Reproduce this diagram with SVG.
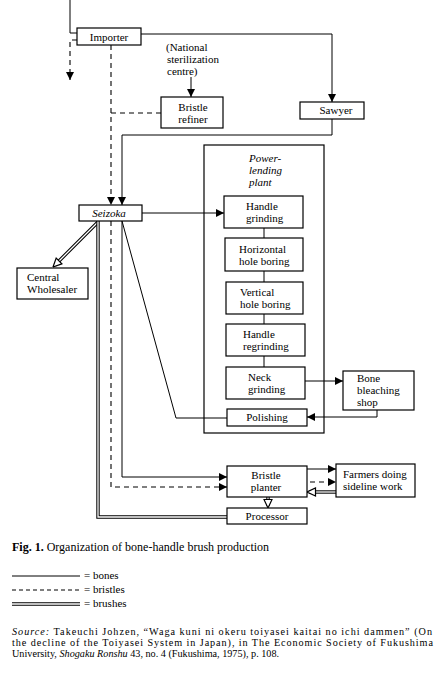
<svg xmlns="http://www.w3.org/2000/svg" width="436" height="678" viewBox="0 0 436 678">
<defs>
<style>
.bg{fill:#fff}
.box{fill:#fff;stroke:#000;stroke-width:1.2}
.frame{fill:none;stroke:#000;stroke-width:1.2}
.t{font-family:"Liberation Serif","Times New Roman",serif;font-size:11px;fill:#000}
.c{text-anchor:middle}
.i{font-style:italic}
.s{fill:none;stroke:#000;stroke-width:1}
.d{fill:none;stroke:#000;stroke-width:1.1;stroke-dasharray:5,4}
.dbk{fill:none;stroke:#000;stroke-width:3.4}
.dbw{fill:none;stroke:#fff;stroke-width:1.3}
.arr{marker-end:url(#arr)}
.hol{marker-end:url(#hol)}
.src{font-size:10.2px}
</style>
<marker id="arr" viewBox="0 0 10 10" refX="10" refY="5" markerWidth="8" markerHeight="8" markerUnits="userSpaceOnUse" orient="auto"><path d="M0,0 L10,5 L0,10 z" fill="#000"/></marker>
<marker id="hol" viewBox="0 0 10 10" refX="9.5" refY="5" markerWidth="10" markerHeight="10" markerUnits="userSpaceOnUse" orient="auto"><path d="M1,1 L9.5,5 L1,9 z" fill="#fff" stroke="#000" stroke-width="1.2"/></marker>
</defs>
<rect class="bg" x="0" y="0" width="436" height="678"/>

<g id="power-lending-plant"><rect class="frame" x="204" y="145" width="120" height="288"/><text class="t i" x="249" y="162">Power-</text><text class="t i" x="249" y="174">lending</text><text class="t i" x="249" y="186">plant</text></g>

<g id="connectors">
  <!-- bones (solid) -->
  <path class="s" d="M70,0 V33 H77"/>
  <path class="s arr" d="M141,34 H332 V102"/>
  <path class="s arr" d="M332,119 V135 H122 V205"/>
  <path class="s arr" d="M142,213 H224"/>
  <path class="s" d="M264,228 V238 M264,271 V282 M264,314 V324 M264,356 V367"/>
  <path class="s arr" d="M305,381 H343"/>
  <path class="s arr" d="M377,410 V417 H307"/>
  <path class="s" d="M227,418 H176 L122,221"/>
  <path class="s arr" d="M122,221 V477 H227"/>
  <path class="s arr" d="M307,469 H336"/>
  <path class="s arr" d="M191,77 V97"/>
  <!-- bristles (dashed) -->
  <path class="d arr" d="M77,40 H70 V80"/>
  <path class="d arr" d="M111,45 V205"/>
  <path class="d" d="M111,113 H161"/>
  <path class="d arr" d="M111,221 V487 H227"/>
  <path class="d arr" d="M310,482 H336"/>
  <!-- brushes (double) -->
  <path class="dbk" d="M98,222 L55,265"/>
  <path class="dbw hol" d="M98,222 L53,267"/>
  <path class="dbk" d="M227,517 H98 V221"/>
  <path class="dbw" d="M227,517 H98 V221"/>
  <path class="dbk" d="M336,492 H309"/>
  <path class="dbw hol" d="M336,492 H307"/>
  <path class="dbk" d="M268,497 V506"/>
  <path class="dbw hol" d="M268,497 V508"/>
</g>

<g id="importer"><rect class="box" x="77" y="28" width="64" height="17"/><text class="t c" x="109" y="41">Importer</text></g>
<g id="national"><text class="t" x="166" y="51">(National</text><text class="t" x="167" y="63">sterilization</text><text class="t" x="167" y="75">centre)</text></g>
<g id="bristle-refiner"><rect class="box" x="161" y="97" width="62" height="31"/><text class="t c" x="193" y="111">Bristle</text><text class="t c" x="193" y="123">refiner</text></g>
<g id="sawyer"><rect class="box" x="300" y="102" width="64" height="17"/><text class="t c" x="336" y="114">Sawyer</text></g>
<g id="seizoka"><rect class="box" x="79" y="205" width="63" height="16"/><text class="t c i" x="109" y="217">Seizoka</text></g>
<g id="central-wholesaler"><rect class="box" x="17" y="268" width="71" height="31"/><text class="t" x="27" y="281">Central</text><text class="t" x="27" y="293">Wholesaler</text></g>
<g id="handle-grinding"><rect class="box" x="224" y="196" width="79" height="32"/><text class="t" x="246" y="210">Handle</text><text class="t" x="246" y="222">grinding</text></g>
<g id="horizontal-hole-boring"><rect class="box" x="225" y="238" width="78" height="33"/><text class="t" x="239" y="253">Horizontal</text><text class="t" x="239" y="265">hole boring</text></g>
<g id="vertical-hole-boring"><rect class="box" x="226" y="282" width="77" height="32"/><text class="t" x="240" y="296">Vertical</text><text class="t" x="240" y="308">hole boring</text></g>
<g id="handle-regrinding"><rect class="box" x="226" y="324" width="79" height="32"/><text class="t" x="243" y="338">Handle</text><text class="t" x="243" y="350">regrinding</text></g>
<g id="neck-grinding"><rect class="box" x="226" y="367" width="79" height="32"/><text class="t" x="248" y="381">Neck</text><text class="t" x="248" y="393">grinding</text></g>
<g id="polishing"><rect class="box" x="227" y="409" width="80" height="17"/><text class="t c" x="267" y="421">Polishing</text></g>
<g id="bone-bleaching-shop"><rect class="box" x="343" y="371" width="71" height="39"/><text class="t" x="357" y="382">Bone</text><text class="t" x="357" y="394">bleaching</text><text class="t" x="357" y="406">shop</text></g>
<g id="bristle-planter"><rect class="box" x="227" y="466" width="80" height="31"/><text class="t c" x="266" y="479">Bristle</text><text class="t c" x="266" y="491">planter</text></g>
<g id="farmers"><rect class="box" x="336" y="464" width="79" height="33"/><text class="t" x="343" y="478">Farmers doing</text><text class="t" x="343" y="490">sideline work</text></g>
<g id="processor"><rect class="box" x="227" y="508" width="80" height="16"/><text class="t c" x="267" y="520">Processor</text></g>

<g id="caption"><text class="t" x="12" y="551" style="font-size:12px"><tspan font-weight="bold">Fig. 1.</tspan> Organization of bone-handle brush production</text></g>

<g id="legend">
  <path class="s" d="M12,576 H80"/><text class="t" x="84" y="579">= bones</text>
  <path class="d" d="M12,590 H80" style="stroke-dasharray:4,3"/><text class="t" x="84" y="593">= bristles</text>
  <path class="dbk" d="M12,604 H80"/><path class="dbw" d="M12,604 H80"/><text class="t" x="84" y="607">= brushes</text>
</g>

<g id="source">
  <text class="t src" x="12" y="635" textLength="420" lengthAdjust="spacing"><tspan font-style="italic">Source:</tspan> Takeuchi Johzen, “Waga kuni ni okeru toiyasei kaitai no ichi dammen” (On</text>
  <text class="t src" x="12" y="646" textLength="421" lengthAdjust="spacing">the decline of the Toiyasei System in Japan), in The Economic Society of Fukushima</text>
  <text class="t src" x="12" y="657">University, <tspan font-style="italic">Shogaku Ronshu</tspan> 43, no. 4 (Fukushima, 1975), p. 108.</text>
</g>
</svg>
